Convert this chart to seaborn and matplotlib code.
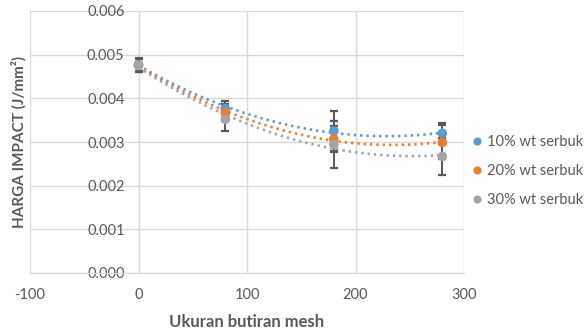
import numpy as np
import pandas as pd
import matplotlib
matplotlib.use('Agg')
from matplotlib import pyplot as plt
from matplotlib.ticker import FormatStrFormatter, MultipleLocator
import seaborn as sns

# data
mesh = [0, 80, 180, 280]
impact_10 = [0.00477, 0.00377, 0.00325, 0.00320]
impact_20 = [0.00476, 0.00367, 0.00307, 0.00299]
impact_30 = [0.00475, 0.00352, 0.00294, 0.00267]
err_10 = [0.00015, 0.00016, 0.00046, 0.00024]
err_20 = [0.00015, 0.00020, 0.00030, 0.00039]
err_30 = [0.00015, 0.00027, 0.00053, 0.00042]
labels = ['10% wt serbuk', '20% wt serbuk', '30% wt serbuk']
colors = ['#5B9BD5', '#ED7D31', '#A5A5A5']

series = [impact_10, impact_20, impact_30]
errors = [err_10, err_20, err_30]
df = pd.concat([pd.DataFrame({'mesh': mesh, 'impact': v, 'err': e, 'seri': l})
                for v, e, l in zip(series, errors, labels)], ignore_index=True)

sns.set_style('white')
plt.rcParams['font.family'] = ['Lato', 'DejaVu Sans']
plt.rcParams['axes.unicode_minus'] = False
txt = '#595959'
grid = '#D9D9D9'

fig = plt.figure(figsize=(5.86, 3.34), dpi=100)
ax = fig.add_axes([30/586, 1-273/334, 434/586, 262/334])

# polynomial (order 2) trendlines, dotted
for v, c in zip(series, colors):
    sns.regplot(x=mesh, y=v, order=2, ci=None, scatter=False, ax=ax,
                line_kws=dict(color=c, lw=1.9, ls=(0, (0.9, 1.5)), zorder=2))

# error bars
for v, e in zip(series, errors):
    ax.errorbar(mesh, v, yerr=e, fmt='none', ecolor='#595959', elinewidth=1.4,
                capsize=2.8, capthick=1.6, zorder=3)

sns.scatterplot(data=df, x='mesh', y='impact', hue='seri', palette=colors,
                s=48, edgecolor='none', linewidth=0, ax=ax, zorder=4)

handles, labs = ax.get_legend_handles_labels()
ax.get_legend().remove()
fig.legend(handles, labs, loc='center left', bbox_to_anchor=(0.807, 0.488),
           frameon=False, handlelength=0.6, handletextpad=0.35, labelspacing=1.05,
           borderpad=0, borderaxespad=0, fontsize=10.5, labelcolor=txt, markerscale=0.85)

ax.set_xlim(-100, 300)
ax.set_ylim(0, 0.006)
ax.xaxis.set_major_locator(MultipleLocator(100))
ax.yaxis.set_major_locator(MultipleLocator(0.001))
ax.yaxis.set_major_formatter(FormatStrFormatter('%.3f'))
ax.grid(True, color=grid, lw=1, zorder=0)
ax.set_axisbelow(True)

for s in ['top', 'right']:
    ax.spines[s].set_visible(False)
ax.spines['left'].set_position(('data', 0))
ax.spines['left'].set_color(grid)
ax.spines['bottom'].set_color(grid)
ax.tick_params(axis='x', length=4, color=grid, width=1, pad=7, labelsize=10.5, labelcolor=txt)
ax.tick_params(axis='y', length=0, pad=10, labelsize=10.5, labelcolor=txt)

ax.set_xlabel('Ukuran butiran mesh', fontweight='bold', fontsize=12, color=txt)
ax.set_ylabel('HARGA IMPACT (J/mm²)', fontweight='bold', fontsize=11, color=txt)
ax.xaxis.set_label_coords(0.5, -0.155)
ax.yaxis.set_label_coords(-0.008, 0.5)

plt.savefig('out.png', dpi=100)
